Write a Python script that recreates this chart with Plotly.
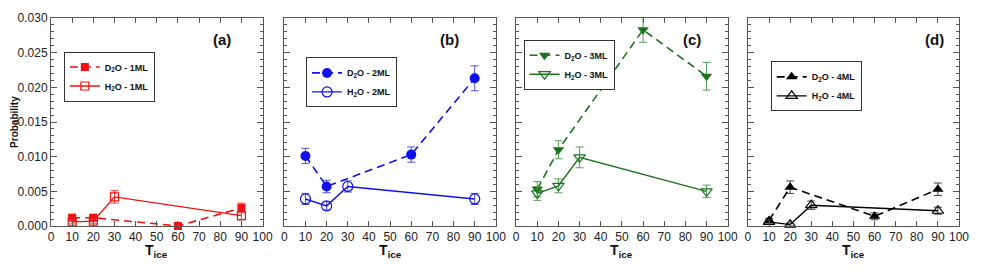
import plotly.graph_objects as go

# ---------------- data ----------------
t_d2o_1 = [10, 20, 60, 90]
p_d2o_1 = [0.0012, 0.0012, 0.0000, 0.0026]
e_d2o_1 = [0.0003, 0.0003, 0.0002, 0.0007]
t_h2o_1 = [10, 20, 30, 90]
p_h2o_1 = [0.0006, 0.0007, 0.0042, 0.0015]
e_h2o_1 = [0.0003, 0.0003, 0.0009, 0.0006]

t_d2o_2 = [10, 20, 60, 90]
p_d2o_2 = [0.0101, 0.0057, 0.0103, 0.0213]
e_d2o_2 = [0.0011, 0.0009, 0.0011, 0.0018]
t_h2o_2 = [10, 20, 30, 90]
p_h2o_2 = [0.0039, 0.0029, 0.0057, 0.0039]
e_h2o_2 = [0.0008, 0.0006, 0.0008, 0.0008]

t_d2o_3 = [10, 20, 60, 90]
p_d2o_3 = [0.0053, 0.0110, 0.0283, 0.0216]
e_d2o_3 = [0.0011, 0.0013, 0.0018, 0.0020]
t_h2o_3 = [10, 20, 30, 90]
p_h2o_3 = [0.0047, 0.0058, 0.0099, 0.0050]
e_h2o_3 = [0.0010, 0.0010, 0.0015, 0.0009]

t_d2o_4 = [10, 20, 60, 90]
p_d2o_4 = [0.0008, 0.0056, 0.0014, 0.0053]
e_d2o_4 = [0.0003, 0.0009, 0.0005, 0.0009]
t_h2o_4 = [10, 20, 30, 90]
p_h2o_4 = [0.0006, 0.0002, 0.0030, 0.0022]
e_h2o_4 = [0.0003, 0.0002, 0.0006, 0.0005]

panel_labels = ["(a)", "(b)", "(c)", "(d)"]
x_ticks = [0, 10, 20, 30, 40, 50, 60, 70, 80, 90, 100]

# ---------------- layout geometry (window pixels) ----------------
OFF = 8                      # default page body margin
WIN_W, WIN_H = 981, 269
W, H = WIN_W - 2 * OFF, WIN_H - 2 * OFF
PLOT_L, PLOT_R, PLOT_T, PLOT_B = 51, 969.5, 15, 226.5
ML = PLOT_L - OFF
MR = W - (PLOT_R - OFF)
MT = PLOT_T - OFF
MB = H - (PLOT_B - OFF)
PW = PLOT_R - PLOT_L
PH = PLOT_B - PLOT_T
panel_px = [(51, 265), (287, 501), (521.5, 735.5), (756, 969.5)]
legend_px = [(64, 74.5), (309, 80.5), (529, 62.5), (779, 84.5)]
label_px = [(224, 37), (454, 37), (699, 37), (945, 37)]


def px_x(p):
    return (p - PLOT_L) / PW


def px_y(p):
    return (PLOT_B - p) / PH


panels = [
    (t_d2o_1, p_d2o_1, e_d2o_1, t_h2o_1, p_h2o_1, e_h2o_1, "1ML",
     "#f01010", "#f04040", "square", "square-open", 8),
    (t_d2o_2, p_d2o_2, e_d2o_2, t_h2o_2, p_h2o_2, e_h2o_2, "2ML",
     "#1010ee", "#5050d8", "circle", "circle-open", 10),
    (t_d2o_3, p_d2o_3, e_d2o_3, t_h2o_3, p_h2o_3, e_h2o_3, "3ML",
     "#1b731b", "#5c9c5c", "triangle-down", "triangle-down-open", 10),
    (t_d2o_4, p_d2o_4, e_d2o_4, t_h2o_4, p_h2o_4, e_h2o_4, "4ML",
     "#000000", "#444444", "triangle-up", "triangle-up-open", 10),
]

fig = go.Figure()
FONT = "Liberation Sans, Arial, sans-serif"
AX = "#555555"

for i, (td, pd_, ed, th, ph, eh, ml, col, ecol, sym_f, sym_o, msz) in enumerate(panels):
    n = "" if i == 0 else str(i + 1)
    leg = "legend" if i == 0 else f"legend{i + 1}"
    fig.add_trace(go.Scatter(
        x=td, y=pd_, mode="lines+markers", xaxis=f"x{n}", yaxis=f"y{n}",
        name=f"<b>D<sub>2</sub>O - {ml}</b>", legend=leg,
        line=dict(color=col, width=1.6, dash="8px,5px"),
        marker=dict(symbol=sym_f, size=msz, color=col, line=dict(width=0)),
        error_y=dict(type="data", array=ed, visible=True, color=ecol,
                     thickness=1, width=4),
        cliponaxis=False,
    ))
    fig.add_trace(go.Scatter(
        x=th, y=ph, mode="lines+markers", xaxis=f"x{n}", yaxis=f"y{n}",
        name=f"<b>H<sub>2</sub>O - {ml}</b>", legend=leg,
        line=dict(color=col, width=1.4),
        marker=dict(symbol=sym_o, size=msz, color=col, line=dict(width=1.2, color=col)),
        error_y=dict(type="data", array=eh, visible=True, color=ecol,
                     thickness=1, width=4),
        cliponaxis=False,
    ))
    x0, x1 = panel_px[i]
    fig.layout[f"xaxis{n}"] = dict(
        domain=[px_x(x0), px_x(x1)], range=[0, 100], anchor=f"y{n}",
        tickvals=x_ticks, ticks="inside", ticklen=5, tickcolor=AX,
        showline=True, linecolor=AX, linewidth=1, mirror="allticks",
        showgrid=False, zeroline=False,
        tickfont=dict(family=FONT, size=12, color="#222"),
    )
    fig.layout[f"yaxis{n}"] = dict(
        domain=[0, 1], range=[0, 0.030], anchor=f"x{n}",
        dtick=0.005, tick0=0, ticks="inside", ticklen=6, tickcolor=AX,
        minor=dict(dtick=0.001, ticks="inside", ticklen=3, tickcolor=AX),
        showline=True, linecolor=AX, linewidth=1, mirror="allticks",
        showgrid=False, zeroline=False, tickformat=".3f",
        showticklabels=(i == 0),
        tickfont=dict(family=FONT, size=12, color="#222"),
    )
    lx, ly = legend_px[i]
    fig.layout[leg] = dict(
        x=px_x(lx), y=px_y(ly), xanchor="left", yanchor="middle",
        bordercolor="#333", borderwidth=1, bgcolor="white",
        font=dict(family=FONT, size=9, color="#111"),
        tracegroupgap=0, itemwidth=30,
    )
    ax, ay = label_px[i]
    fig.add_annotation(
        x=px_x(ax), y=px_y(ay), xref="paper", yref="paper", showarrow=False,
        xanchor="center", yanchor="middle",
        text=f"<b>{panel_labels[i]}</b>",
        font=dict(family=FONT, size=15, color="#111"),
    )
    fig.add_annotation(
        x=px_x((x0 + x1) / 2), y=px_y(252), xref="paper", yref="paper",
        showarrow=False, xanchor="center", yanchor="middle",
        text="<b>T<sub>ice</sub></b>",
        font=dict(family=FONT, size=14, color="#111"),
    )

fig.add_annotation(
    x=px_x(13.5), y=0.5, xref="paper", yref="paper", showarrow=False,
    xanchor="center", yanchor="middle",
    text="<b>Probability</b>", textangle=-90,
    font=dict(family=FONT, size=10, color="#111"),
)

fig.update_layout(
    width=W, height=H, showlegend=True,
    margin=dict(l=ML, r=MR, t=MT, b=MB),
    paper_bgcolor="white", plot_bgcolor="white",
)

fig.write_html("out.html")
